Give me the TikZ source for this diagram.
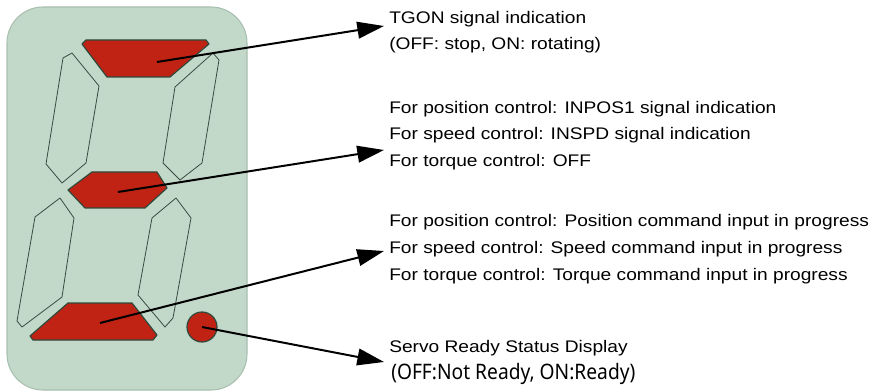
\documentclass[tikz,border=0pt]{standalone}
\usepackage{fontspec}
\setmainfont{Liberation Sans}[FakeStretch=1.14]
\newfontfamily\notefont{Noto Sans}[FakeStretch=0.9]
\usetikzlibrary{arrows.meta}

\definecolor{panelgreen}{HTML}{C2D9C9}
\definecolor{panelrim}{HTML}{A9BFB0}
\definecolor{segred}{HTML}{C02313}
\definecolor{segrim}{HTML}{2E4A3C}
\definecolor{segoff}{HTML}{3A4A40}

\tikzset{
  seg on/.style={fill=segred, draw=segrim, line width=0.9pt, line join=round},
  seg off/.style={draw=segoff, line width=0.6pt, line join=round},
  callout/.style={-{Triangle[length=20pt,width=12.5pt]}, line width=1.5pt},
  infotext/.style={anchor=base west, inner sep=0pt, font=\fontsize{12.6}{15}\selectfont},
}

\begin{document}
\begin{tikzpicture}[x=0.75pt, y=-0.75pt]
    \useasboundingbox (0,0) rectangle (893,392);

    % display panel
    \draw[fill=panelgreen, draw=panelrim, line width=0.8pt, rounded corners=27pt]
        (7,7) rectangle (247,390);

    % segments that are lit
    \filldraw[seg on] (82,44) -- (86,40) -- (206,40) -- (209,44) -- (170,77) -- (107,77) -- cycle;
    \filldraw[seg on] (68,190) -- (92,172) -- (157,172) -- (167,188) -- (145,208) -- (85,208) -- cycle;
    \filldraw[seg on] (30,336) -- (68,303) -- (132,303) -- (157,335) -- (153,340) -- (33,340) -- cycle;
    \filldraw[seg on] (202,327) circle[radius=11.25pt];

    % segments that are off
    \draw[seg off] (63,58) -- (72,53) -- (99,86) -- (86,163) -- (62,183) -- (46,164) -- cycle;
    \draw[seg off] (213,53) -- (219,60) -- (202,163) -- (180,180) -- (163,163) -- (175,87) -- cycle;
    \draw[seg off] (35,217) -- (60,198) -- (74,218) -- (62,297) -- (22,327) -- (17,321) -- cycle;
    \draw[seg off] (152,218) -- (176,198) -- (191,218) -- (173,318) -- (165,327) -- (138,295) -- cycle;

    % where the callouts start and end
    \coordinate (segtop) at (157,62);
    \coordinate (segmid) at (118,192);
    \coordinate (segbot) at (100,323);
    \coordinate (segdot) at (202,327);
    \coordinate (tiptop) at (384,26);
    \coordinate (tipmid) at (384,150);
    \coordinate (tipbot) at (384,251);
    \coordinate (tipdot) at (384,362);

    % texts
    \node[infotext] (tgon)   at (389,24)    {TGON signal indication};
    \node[infotext] (tgonst) at (389,50)    {(OFF: stop, ON: rotating)};

    \node[infotext] (inpos)  at (389,113.5) {For position control: INPOS1 signal indication};
    \node[infotext] (inspd)  at (389,140)   {For speed control: INSPD signal indication};
    \node[infotext] (inoff)  at (389,166.5) {For torque control: OFF};

    \node[infotext] (cmdpos) at (389,226.5) {For position control: Position command input in progress};
    \node[infotext] (cmdspd) at (389,253.5) {For speed control: Speed command input in progress};
    \node[infotext] (cmdtrq) at (389,280.5) {For torque control: Torque command input in progress};

    \node[infotext] (srvrdy) at (389,352)   {Servo Ready Status Display};
    \node[infotext, font=\notefont\fontsize{16}{19}\selectfont] (srvst) at (391,379) {(OFF:Not Ready, ON:Ready)};

    % callouts
    \draw[callout] (segtop) -- (tiptop);
    \draw[callout] (segmid) -- (tipmid);
    \draw[callout] (segbot) -- (tipbot);
    \draw[callout] (segdot) -- (tipdot);
\end{tikzpicture}
\end{document}
